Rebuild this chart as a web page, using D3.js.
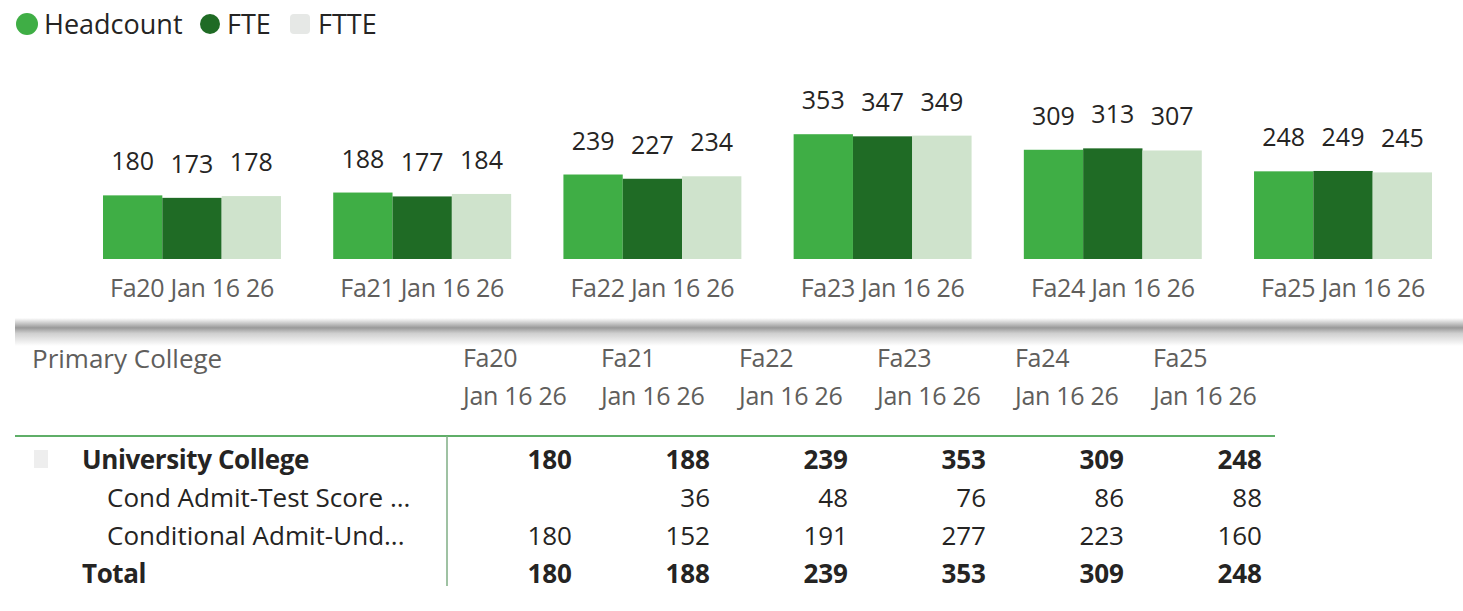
<!DOCTYPE html>
<html>
<head>
<meta charset="utf-8">
<script src="https://cdn.jsdelivr.net/npm/d3@7"></script>
<style>
  body { margin: 0; background: #fff; }
  svg { display: block; font-family: 'Open Sans', sans-serif; }
</style>
</head>
<body>
<div id="chart-area"></div>
<script>
const WIDTH = 1463
const HEIGHT = 611

// data
const terms = ['Fa20', 'Fa21', 'Fa22', 'Fa23', 'Fa24', 'Fa25']
const snapshot = 'Jan 16 26'
const series = ['Headcount', 'FTE', 'FTTE']
const headcount = [180, 188, 239, 353, 309, 248]
const fte = [173, 177, 227, 347, 313, 249]
const ftte = [178, 184, 234, 349, 307, 245]
const colors = ['#3fae45', '#1f6b25', '#cfe3cc']

const rowLabels = ['University College', 'Cond Admit-Test Score ...', 'Conditional Admit-Und...', 'Total']
const univCollege = [180, 188, 239, 353, 309, 248]
const condTestScore = [null, 36, 48, 76, 86, 88]
const condAdmitUnd = [180, 152, 191, 277, 223, 160]
const totals = [180, 188, 239, 353, 309, 248]

const svg = d3.select('#chart-area').append('svg')
  .attr('width', WIDTH)
  .attr('height', HEIGHT)

// legend
const legend = svg.append('g').attr('transform', 'translate(27, 24)')
const legendX = [0, 183, 273]
series.forEach((s, i) => {
  const lg = legend.append('g').attr('transform', `translate(${legendX[i]}, 0)`)
  if (i === 2) {
    lg.append('rect').attr('x', -10).attr('y', -10).attr('width', 20).attr('height', 20)
      .attr('rx', 4).attr('fill', '#e6e8e6')
  } else {
    lg.append('circle').attr('r', i === 0 ? 11 : 10).attr('fill', colors[i])
  }
  lg.append('text')
    .attr('x', i === 2 ? 18 : 17)
    .attr('y', 10)
    .attr('font-size', '27px')
    .attr('fill', '#252423')
    .text(s)
})

// bar chart
const x0 = d3.scaleBand()
  .domain(terms)
  .range([77, 1458])
  .paddingInner(0.227)
  .paddingOuter(0.113)

const x1 = d3.scaleBand()
  .domain(series)
  .range([0, x0.bandwidth()])

const y = d3.scaleLinear()
  .domain([0, 400])
  .range([259, 117.6])

const values = [headcount, fte, ftte]
const barData = terms.flatMap((t, i) => series.map((s, j) => ({ term: t, series: s, idx: j, value: values[j][i] })))

const g = svg.append('g')

g.selectAll('rect.bar')
  .data(barData)
  .enter().append('rect')
  .attr('class', 'bar')
  .attr('x', d => x0(d.term) + x1(d.series))
  .attr('y', d => y(d.value))
  .attr('width', x1.bandwidth())
  .attr('height', d => y(0) - y(d.value))
  .attr('fill', d => colors[d.idx])

g.selectAll('text.label')
  .data(barData)
  .enter().append('text')
  .attr('class', 'label')
  .attr('x', d => x0(d.term) + x1(d.series) + x1.bandwidth() / 2)
  .attr('y', d => y(d.value) - 25)
  .attr('text-anchor', 'middle')
  .attr('font-size', '25px')
  .attr('fill', '#252423')
  .text(d => d.value)

const xAxis = d3.axisBottom(x0)
  .tickSize(0)
  .tickPadding(0)
  .tickFormat(d => d + ' ' + snapshot)
const xAxisG = g.append('g')
  .attr('transform', 'translate(0, 279)')
  .call(xAxis)
xAxisG.select('.domain').remove()
xAxisG.selectAll('text')
  .attr('font-family', "'Open Sans', sans-serif")
  .attr('font-size', '25px')
  .attr('fill', '#605e5c')
  .attr('letter-spacing', '-0.3px')

// divider shadow
const defs = svg.append('defs')
const grad = defs.append('linearGradient')
  .attr('id', 'shadow').attr('x1', 0).attr('y1', 0).attr('x2', 0).attr('y2', 1)
grad.append('stop').attr('offset', '0%').attr('stop-color', '#ffffff')
grad.append('stop').attr('offset', '35%').attr('stop-color', '#999999')
grad.append('stop').attr('offset', '55%').attr('stop-color', '#cfcfcf')
grad.append('stop').attr('offset', '100%').attr('stop-color', '#ffffff')
svg.append('rect')
  .attr('x', 15).attr('y', 318).attr('width', WIDTH - 15).attr('height', 28)
  .attr('fill', 'url(#shadow)')

// table
const colX = d3.scaleBand()
  .domain(terms)
  .range([447, 1275])

const rowY = d3.scaleBand()
  .domain(rowLabels)
  .range([441, 593])

const table = svg.append('g')

table.append('text')
  .attr('x', 32).attr('y', 368)
  .attr('font-size', '26px')
  .attr('fill', '#605e5c')
  .text('Primary College')

terms.forEach(t => {
  table.append('text')
    .attr('x', colX(t) + 16).attr('y', 367)
    .attr('font-size', '25px')
    .attr('fill', '#605e5c')
    .attr('letter-spacing', '-0.3px')
    .text(t)
  table.append('text')
    .attr('x', colX(t) + 16).attr('y', 405)
    .attr('font-size', '25px')
    .attr('fill', '#605e5c')
    .attr('letter-spacing', '-0.3px')
    .text(snapshot)
})

table.append('line')
  .attr('x1', 15).attr('x2', 1275)
  .attr('y1', 436).attr('y2', 436)
  .attr('stroke', '#5fae68').attr('stroke-width', 2)

table.append('line')
  .attr('x1', 447).attr('x2', 447)
  .attr('y1', 436).attr('y2', 586)
  .attr('stroke', '#7fae85').attr('stroke-width', 1.5)

// expand/collapse icon
table.append('rect')
  .attr('x', 34).attr('y', 450).attr('width', 14).attr('height', 18)
  .attr('fill', '#eeeeee')

const rowValues = [univCollege, condTestScore, condAdmitUnd, totals]
const rowIndent = [82, 107, 107, 82]
const rowBold = [true, false, false, true]

rowLabels.forEach((r, i) => {
  const yy = rowY(r) + rowY.bandwidth() / 2 + 9
  table.append('text')
    .attr('x', rowIndent[i]).attr('y', yy)
    .attr('font-size', '26px')
    .attr('font-weight', rowBold[i] ? 700 : 400)
    .attr('fill', '#252423')
    .attr('letter-spacing', rowBold[i] ? '-0.4px' : '0px')
    .text(r)
  table.selectAll(null)
    .data(rowValues[i].map((v, j) => ({ term: terms[j], v })))
    .enter().append('text')
    .attr('x', d => colX(d.term) + colX.bandwidth() - 13)
    .attr('y', yy)
    .attr('text-anchor', 'end')
    .attr('font-size', '26px')
    .attr('font-weight', rowBold[i] ? 700 : 400)
    .attr('fill', '#252423')
    .text(d => d.v === null ? '' : d.v)
})
</script>
</body>
</html>
